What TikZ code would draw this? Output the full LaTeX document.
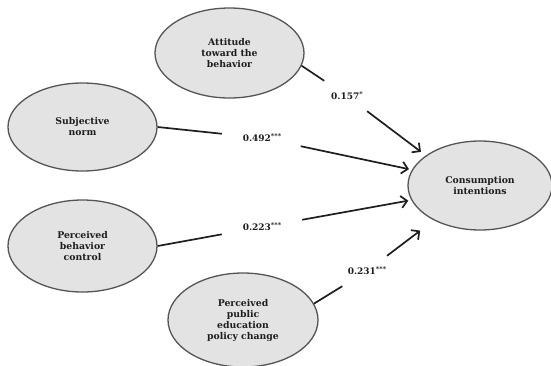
\documentclass[tikz,border=0pt]{standalone}
\usepackage{fontspec}
\setmainfont{DejaVu Serif}
\usetikzlibrary{shapes.geometric,arrows.meta}
\definecolor{fillg}{HTML}{E3E3E3}
\definecolor{edgeg}{HTML}{555555}
\definecolor{ink}{HTML}{1E1E1E}
\newcommand{\sigstars}[1]{\raisebox{3.2pt}{\fontsize{6.5}{6.5}\selectfont #1}}
\begin{document}
\begin{tikzpicture}[x=1pt,y=-1pt,
  construct/.style={ellipse, draw=edgeg, line width=1.3pt, fill=fillg, inner sep=0pt,
    align=center, font=\fontsize{9.3}{11}\selectfont\bfseries, text=ink},
  coef/.style={inner sep=0pt, font=\fontsize{9}{10}\selectfont\bfseries, text=ink},
  link/.style={draw=ink, line width=1.7pt},
  arr/.style={link, -{Straight Barb[length=6pt,width=12pt]}}]
\useasboundingbox (0,0) rectangle (551,365);

\node[construct, minimum width=149pt, minimum height=90pt] (att) at (229.5,53) {Attitude\\toward the\\behavior};
\node[construct, minimum width=149pt, minimum height=88pt] (sn) at (82.5,127) {Subjective\\norm};
\node[construct, minimum width=149pt, minimum height=92pt] (pbc) at (82.5,246) {Perceived\\behavior\\control};
\node[construct, minimum width=150pt, minimum height=94pt] (pe) at (243,320) {Perceived\\public\\education\\policy change};
\node[construct, minimum width=144pt, minimum height=89pt] (cons) at (480,185.5) {Consumption\\intentions};

\node[coef, minimum width=50pt, minimum height=30pt] (l1) at (347,96) {0.157\sigstars{*}};
\node[coef, minimum width=80pt, minimum height=16pt] (l2) at (262,138) {0.492\sigstars{***}};
\node[coef, minimum width=80pt, minimum height=16pt] (l3) at (262,227) {0.223\sigstars{***}};
\node[coef, minimum width=64pt, minimum height=30pt] (l4) at (367,271) {0.231\sigstars{***}};

\draw[link] (att.-10) -- (l1);
\draw[arr, shorten >=6pt] (l1) -- (cons.151);
\draw[link] (sn.east) -- (l2);
\draw[arr, shorten >=3pt] (l2) -- (cons.167);
\draw[link] (pbc.east) -- (l3);
\draw[arr, shorten >=3pt] (l3) -- (cons.192);
\draw[link] (pe.13) -- (l4);
\draw[arr, shorten >=17pt] (l4) -- (cons.217);
\end{tikzpicture}
\end{document}
